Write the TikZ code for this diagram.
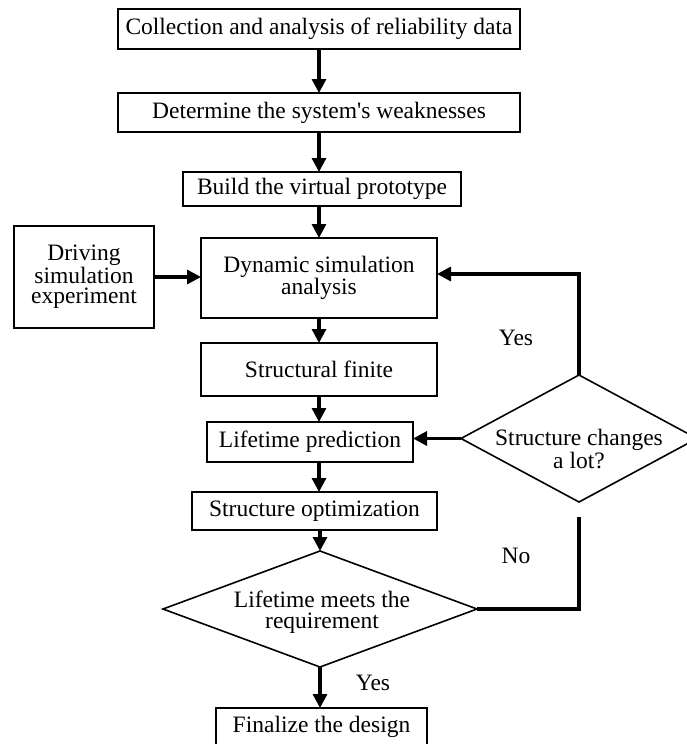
\documentclass[tikz,border=0pt]{standalone}
\usepackage{fontspec}
\setmainfont{Liberation Serif}
\usetikzlibrary{arrows.meta,shapes.geometric}
\begin{document}
\begin{tikzpicture}[x=1pt,y=-1pt,
  box/.style={draw,line width=1.8pt,inner sep=0pt,outer sep=0pt,align=center,
    font=\fontsize{23.5}{20.5}\selectfont},
  dia/.style={draw,diamond,line width=1.6pt,inner sep=0pt,outer sep=0pt},
  txt/.style={inner sep=0pt,align=center,font=\fontsize{23.5}{20.5}\selectfont},
  arr/.style={line width=3.2pt,-{Triangle[length=14pt,width=14pt]}},
  ln/.style={line width=3.2pt}]
\useasboundingbox (0,0) rectangle (687,744);
\clip (0,0) rectangle (687,744);
\node[box,minimum width=402pt,minimum height=40pt] (b1) at (319,29) {Collection and analysis of reliability data};
\node[box,minimum width=402pt,minimum height=39pt] (b2) at (319,112.5) {Determine the system\textquotesingle s weaknesses};
\node[box,minimum width=278pt,minimum height=34pt] (b3) at (322,189) {Build the virtual prototype};
\node[box,minimum width=236pt,minimum height=80pt] (b4) at (319,278) {Dynamic simulation\\analysis};
\node[box,minimum width=140pt,minimum height=102pt] (drv) at (84,277) {Driving\\simulation\\experiment};
\node[box,minimum width=236pt,minimum height=53pt] (b5) at (319,369.5) {Structural finite};
\node[box,minimum width=206pt,minimum height=40pt] (b6) at (310,442) {Lifetime prediction};
\node[box,minimum width=245pt,minimum height=38pt] (b7) at (314.5,511) {Structure optimization};
\node[dia,minimum width=314pt,minimum height=116pt] (d1) at (320,609) {};
\node[txt] (t1) at (322,612) {Lifetime meets the\\requirement};
\node[box,minimum width=211pt,minimum height=38pt] (b8) at (321.5,727) {Finalize the design};
\node[dia,minimum width=236pt,minimum height=127pt] (d2) at (579,438.5) {};
\node[txt,font=\fontsize{23.5}{18}\selectfont] (t2) at (579,449) {Structure changes\\a lot?};
\node[txt] (yes1) at (516,338) {Yes};
\node[txt] (no) at (516,556) {No};
\node[txt] (yes2) at (373,683) {Yes};
\coordinate (fb) at (579,274);
\coordinate (nend) at (579,517);
\draw[arr] (b1.south) -- (b2.north);
\draw[arr] (b2.south) -- (b3.north -| b2.south);
\draw[arr] (b3.south -| b1.south) -- (b4.north);
\draw[arr] (drv.east) -- (drv.east -| b4.west);
\draw[arr] (d2.north) -- (fb) -- (fb -| b4.east);
\draw[arr] (b4.south) -- (b5.north);
\draw[arr] (b5.south) -- (b6.north -| b5.south);
\draw[arr] (b6.south -| b5.south) -- (b7.north -| b5.south);
\draw[arr] (b7.south -| d1.north) -- (d1.north);
\draw[arr] (d2.west) -- (d2.west -| b6.east);
\draw[ln] (d1.east) -| (nend);
\draw[arr] (d1.south) -- (b8.north -| d1.south);
\end{tikzpicture}
\end{document}
